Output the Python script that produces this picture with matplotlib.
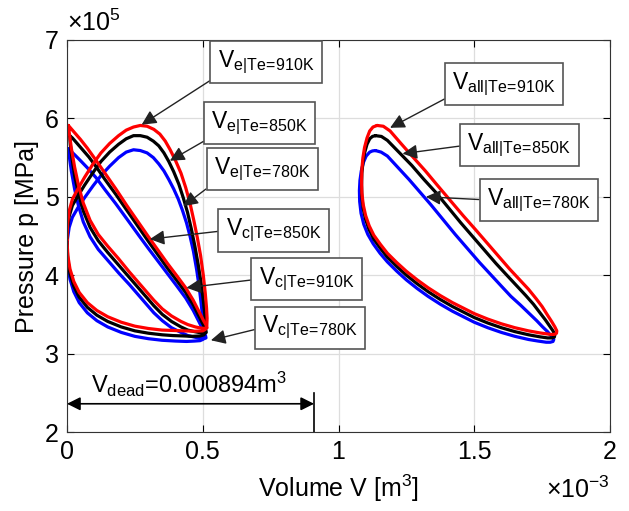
import numpy as np
import matplotlib
matplotlib.use('Agg')
import matplotlib.pyplot as plt

plt.rcParams['font.family'] = ['Liberation Sans', 'DejaVu Sans']
plt.rcParams['mathtext.fontset'] = 'custom'
plt.rcParams['mathtext.rm'] = 'Liberation Sans'
plt.rcParams['mathtext.it'] = 'Liberation Sans:italic'

# volume in 1e-3 m^3, pressure in 1e5 -- points read off the loops
# --- expansion space loops (V_e) ---
ve_910 = np.array([
    (0.000, 4.45), (0.002, 4.65), (0.008, 4.82), (0.020, 4.97), (0.040, 5.10), (0.065, 5.25),
    (0.096, 5.42), (0.125, 5.56), (0.157, 5.68), (0.190, 5.78), (0.218, 5.85), (0.245, 5.89),
    (0.270, 5.91), (0.295, 5.90), (0.320, 5.86), (0.342, 5.80), (0.362, 5.71), (0.380, 5.60),
    (0.400, 5.46), (0.420, 5.30), (0.437, 5.12), (0.453, 4.92), (0.467, 4.70), (0.480, 4.48),
    (0.492, 4.25), (0.502, 4.00), (0.509, 3.78), (0.514, 3.58), (0.516, 3.45), (0.515, 3.36),
    (0.510, 3.31), (0.500, 3.29), (0.470, 3.285), (0.430, 3.29), (0.390, 3.295), (0.350, 3.30),
    (0.300, 3.32), (0.250, 3.35), (0.200, 3.40), (0.150, 3.47), (0.110, 3.55), (0.075, 3.65),
    (0.045, 3.78), (0.025, 3.92), (0.011, 4.08), (0.003, 4.25), (0.000, 4.45)])
ve_850 = np.array([
    (0.000, 4.40), (0.002, 4.59), (0.008, 4.75), (0.020, 4.89), (0.040, 5.01), (0.065, 5.15),
    (0.096, 5.31), (0.125, 5.45), (0.157, 5.57), (0.190, 5.67), (0.218, 5.74), (0.245, 5.78),
    (0.270, 5.78), (0.295, 5.76), (0.318, 5.71), (0.338, 5.65), (0.357, 5.56), (0.375, 5.45),
    (0.393, 5.32), (0.412, 5.16), (0.428, 4.99), (0.444, 4.80), (0.458, 4.59), (0.471, 4.37),
    (0.483, 4.14), (0.494, 3.90), (0.502, 3.68), (0.508, 3.48), (0.511, 3.36), (0.510, 3.28),
    (0.505, 3.24), (0.490, 3.225), (0.460, 3.22), (0.430, 3.225), (0.390, 3.23), (0.350, 3.24),
    (0.300, 3.26), (0.250, 3.29), (0.200, 3.34), (0.150, 3.41), (0.110, 3.49), (0.075, 3.59),
    (0.045, 3.72), (0.025, 3.86), (0.011, 4.02), (0.003, 4.20), (0.000, 4.40)])
ve_780 = np.array([
    (0.000, 4.30), (0.002, 4.47), (0.008, 4.61), (0.020, 4.74), (0.040, 4.86), (0.065, 4.99),
    (0.096, 5.14), (0.125, 5.27), (0.157, 5.39), (0.190, 5.50), (0.218, 5.57), (0.245, 5.60),
    (0.270, 5.59), (0.295, 5.56), (0.318, 5.50), (0.338, 5.42), (0.357, 5.33), (0.375, 5.22),
    (0.393, 5.10), (0.410, 4.97), (0.425, 4.83), (0.440, 4.67), (0.453, 4.50), (0.466, 4.30),
    (0.478, 4.06), (0.488, 3.82), (0.496, 3.58), (0.502, 3.38), (0.504, 3.25), (0.500, 3.18),
    (0.490, 3.165), (0.470, 3.16), (0.440, 3.155), (0.400, 3.16), (0.350, 3.17), (0.300, 3.19),
    (0.250, 3.22), (0.200, 3.27), (0.150, 3.34), (0.110, 3.42), (0.075, 3.52), (0.045, 3.65),
    (0.025, 3.79), (0.011, 3.95), (0.003, 4.12), (0.000, 4.30)])

# --- compression space loops (V_c) ---
vc_910 = np.array([
    (0.005, 5.91), (0.015, 5.87), (0.030, 5.81), (0.050, 5.73), (0.075, 5.62), (0.108, 5.46),
    (0.140, 5.30), (0.180, 5.10), (0.220, 4.89), (0.266, 4.66), (0.300, 4.49), (0.335, 4.32),
    (0.370, 4.15), (0.405, 3.99), (0.437, 3.84), (0.465, 3.68), (0.487, 3.53), (0.503, 3.42),
    (0.513, 3.36), (0.516, 3.33), (0.510, 3.32), (0.495, 3.325), (0.473, 3.34), (0.445, 3.37),
    (0.420, 3.41), (0.385, 3.48), (0.351, 3.57), (0.320, 3.68), (0.290, 3.80), (0.260, 3.92),
    (0.230, 4.04), (0.190, 4.21), (0.150, 4.37), (0.115, 4.52), (0.085, 4.70), (0.060, 4.92),
    (0.042, 5.15), (0.028, 5.38), (0.016, 5.62), (0.009, 5.80), (0.005, 5.91)])
vc_850 = np.array([
    (0.010, 5.78), (0.020, 5.75), (0.035, 5.69), (0.055, 5.61), (0.080, 5.51), (0.108, 5.38),
    (0.140, 5.22), (0.180, 5.03), (0.220, 4.83), (0.266, 4.60), (0.300, 4.43), (0.335, 4.26),
    (0.370, 4.09), (0.405, 3.93), (0.437, 3.78), (0.465, 3.62), (0.487, 3.47), (0.503, 3.36),
    (0.511, 3.30), (0.513, 3.27), (0.507, 3.26), (0.492, 3.265), (0.470, 3.28), (0.445, 3.30),
    (0.420, 3.34), (0.385, 3.41), (0.351, 3.50), (0.320, 3.61), (0.290, 3.73), (0.260, 3.85),
    (0.230, 3.97), (0.190, 4.13), (0.150, 4.29), (0.115, 4.44), (0.085, 4.61), (0.060, 4.82),
    (0.042, 5.04), (0.028, 5.27), (0.018, 5.50), (0.012, 5.67), (0.010, 5.78)])
vc_780 = np.array([
    (0.005, 5.61), (0.015, 5.58), (0.030, 5.53), (0.050, 5.46), (0.075, 5.37), (0.108, 5.24),
    (0.140, 5.09), (0.180, 4.91), (0.220, 4.72), (0.266, 4.50), (0.300, 4.34), (0.335, 4.18),
    (0.370, 4.02), (0.405, 3.86), (0.437, 3.71), (0.465, 3.55), (0.487, 3.40), (0.503, 3.29),
    (0.510, 3.23), (0.512, 3.20), (0.505, 3.19), (0.490, 3.195), (0.470, 3.21), (0.445, 3.23),
    (0.420, 3.27), (0.385, 3.33), (0.351, 3.42), (0.320, 3.52), (0.290, 3.64), (0.260, 3.76),
    (0.230, 3.88), (0.190, 4.03), (0.150, 4.19), (0.115, 4.33), (0.085, 4.49), (0.060, 4.68),
    (0.042, 4.89), (0.028, 5.10), (0.016, 5.33), (0.009, 5.50), (0.005, 5.61)])

# --- total volume loops (V_all) ---
vall_910 = np.array([
    (1.142, 5.91), (1.165, 5.90), (1.190, 5.84), (1.230, 5.68), (1.276, 5.50), (1.320, 5.33),
    (1.361, 5.16), (1.410, 4.96), (1.459, 4.76), (1.505, 4.58), (1.550, 4.40), (1.590, 4.24),
    (1.630, 4.08), (1.665, 3.95), (1.700, 3.82), (1.728, 3.70), (1.750, 3.60), (1.770, 3.49),
    (1.785, 3.41), (1.797, 3.34), (1.804, 3.29), (1.803, 3.26), (1.795, 3.245), (1.780, 3.245),
    (1.740, 3.265), (1.700, 3.29), (1.650, 3.33), (1.600, 3.38), (1.550, 3.44), (1.500, 3.51),
    (1.460, 3.58), (1.420, 3.65), (1.375, 3.74), (1.330, 3.84), (1.290, 3.94), (1.250, 4.05),
    (1.215, 4.16), (1.180, 4.28), (1.155, 4.39), (1.130, 4.51), (1.113, 4.63), (1.100, 4.76),
    (1.091, 4.90), (1.086, 5.05), (1.085, 5.20), (1.086, 5.35), (1.090, 5.50), (1.096, 5.63),
    (1.105, 5.75), (1.115, 5.84), (1.127, 5.89), (1.142, 5.91)])
vall_850 = np.array([
    (1.136, 5.78), (1.158, 5.77), (1.180, 5.72), (1.225, 5.56), (1.270, 5.40), (1.315, 5.22),
    (1.360, 5.05), (1.405, 4.86), (1.450, 4.67), (1.495, 4.49), (1.540, 4.31), (1.580, 4.15),
    (1.620, 4.00), (1.655, 3.87), (1.690, 3.74), (1.718, 3.63), (1.740, 3.53), (1.762, 3.43),
    (1.778, 3.35), (1.790, 3.29), (1.797, 3.24), (1.795, 3.21), (1.785, 3.20), (1.770, 3.20),
    (1.740, 3.215), (1.700, 3.24), (1.650, 3.28), (1.600, 3.33), (1.550, 3.39), (1.500, 3.46),
    (1.460, 3.53), (1.420, 3.60), (1.375, 3.69), (1.330, 3.79), (1.290, 3.89), (1.250, 4.00),
    (1.215, 4.11), (1.180, 4.23), (1.155, 4.34), (1.130, 4.46), (1.113, 4.58), (1.100, 4.71),
    (1.091, 4.85), (1.086, 5.00), (1.085, 5.15), (1.086, 5.30), (1.090, 5.44), (1.096, 5.56),
    (1.105, 5.67), (1.115, 5.74), (1.125, 5.77), (1.136, 5.78)])
vall_780 = np.array([
    (1.136, 5.59), (1.157, 5.57), (1.180, 5.52), (1.220, 5.37), (1.260, 5.22), (1.300, 5.06),
    (1.340, 4.90), (1.385, 4.71), (1.430, 4.52), (1.475, 4.34), (1.520, 4.16), (1.560, 4.01),
    (1.600, 3.86), (1.635, 3.73), (1.670, 3.62), (1.700, 3.52), (1.730, 3.42), (1.752, 3.34),
    (1.770, 3.28), (1.785, 3.22), (1.793, 3.18), (1.790, 3.155), (1.780, 3.145), (1.765, 3.145),
    (1.735, 3.16), (1.700, 3.18), (1.650, 3.22), (1.600, 3.27), (1.550, 3.33), (1.500, 3.40),
    (1.460, 3.47), (1.420, 3.54), (1.375, 3.63), (1.330, 3.73), (1.290, 3.83), (1.250, 3.94),
    (1.215, 4.05), (1.180, 4.17), (1.153, 4.28), (1.128, 4.40), (1.108, 4.52), (1.093, 4.65),
    (1.083, 4.79), (1.078, 4.94), (1.077, 5.08), (1.079, 5.21), (1.084, 5.33), (1.092, 5.44),
    (1.102, 5.52), (1.115, 5.57), (1.125, 5.585), (1.136, 5.59)])

v_dead = 0.894  # 1e-3 m^3

# labels: (text, text pos, arrow tip, relpos on box)
labels = [
    (r'$\mathrm{V_{e|Te\!=\!910K}}$', (0.733, 6.72), (0.275, 5.92), (0.0, 0.0)),
    (r'$\mathrm{V_{e|Te\!=\!850K}}$', (0.710, 5.94), (0.379, 5.46), (0.0, 0.0)),
    (r'$\mathrm{V_{e|Te\!=\!780K}}$', (0.719, 5.35), (0.428, 4.88), (0.0, 0.0)),
    (r'$\mathrm{V_{c|Te\!=\!850K}}$', (0.761, 4.57), (0.305, 4.46), (0.0, 0.5)),
    (r'$\mathrm{V_{c|Te\!=\!910K}}$', (0.882, 3.95), (0.44, 3.84), (0.0, 0.5)),
    (r'$\mathrm{V_{c|Te\!=\!780K}}$', (0.895, 3.33), (0.53, 3.17), (0.0, 0.5)),
    (r'$\mathrm{V_{all|Te\!=\!910K}}$', (1.61, 6.44), (1.19, 5.88), (0.0, 0.1)),
    (r'$\mathrm{V_{all|Te\!=\!850K}}$', (1.666, 5.66), (1.236, 5.55), (0.0, 0.5)),
    (r'$\mathrm{V_{all|Te\!=\!780K}}$', (1.738, 4.96), (1.322, 5.00), (0.0, 0.5)),
]

fig = plt.figure(figsize=(6.29, 5.11), dpi=100)
ax = fig.add_axes([67 / 629, 1 - 432 / 511, (610 - 67) / 629, (432 - 40) / 511])

lw = 2.3
loops = [(ve_780, 'blue'), (vc_780, 'blue'), (vall_780, 'blue'),
         (ve_850, 'black'), (vc_850, 'black'), (vall_850, 'black'),
         (ve_910, 'red'), (vc_910, 'red'), (vall_910, 'red')]
for pts, c in loops:
    ax.plot(pts[:, 0], pts[:, 1], color=c, lw=lw, solid_joinstyle='round', solid_capstyle='round')

for txt, pos, tip, rp in labels:
    ax.annotate(txt, xy=tip, xytext=pos, fontsize=16.5, ha='center', va='center',
                bbox=dict(boxstyle='square,pad=0.32', fc='white', ec='#555555', lw=1.2),
                arrowprops=dict(arrowstyle='-|>', color='#222222', lw=1.0, mutation_scale=22,
                                relpos=rp, shrinkA=0, shrinkB=0),
                zorder=5)

# dead volume marker
ax.annotate('', xy=(0, 2.36), xytext=(v_dead + 0.016, 2.36),
            arrowprops=dict(arrowstyle='<|-|>', color='black', lw=1.2, mutation_scale=20,
                            shrinkA=0, shrinkB=0))
ax.plot([v_dead + 0.016, v_dead + 0.016], [2.0, 2.5], color='black', lw=1.2)
ax.text(0.09, 2.5, r'$\mathrm{V_{dead}}$=0.000894m$^3$', fontsize=17, ha='left', va='baseline')

ax.set_xlim(0, 2)
ax.set_ylim(2, 7)
ax.set_xticks([0, 0.5, 1, 1.5, 2])
ax.set_yticks([2, 3, 4, 5, 6, 7])
ax.set_xticklabels(['0', '0.5', '1', '1.5', '2'])
ax.set_yticklabels(['2', '3', '4', '5', '6', '7'])
ax.tick_params(direction='in', top=True, right=True, length=5, labelsize=18, pad=6)
ax.grid(True, color='#dddddd', lw=0.9)
ax.set_axisbelow(True)
for s in ax.spines.values():
    s.set_color('#333333')

ax.set_xlabel(r'Volume V [m$^3$]', fontsize=18, labelpad=6)
ax.set_ylabel('Pressure p [MPa]', fontsize=18, labelpad=4)
ax.text(0.0, 1.01, r'$\times10^5$', transform=ax.transAxes, fontsize=18, ha='left', va='bottom')
ax.text(1.0, -0.115, r'$\times10^{-3}$', transform=ax.transAxes, fontsize=18, ha='right', va='top')

fig.savefig('out.png', dpi=100)
